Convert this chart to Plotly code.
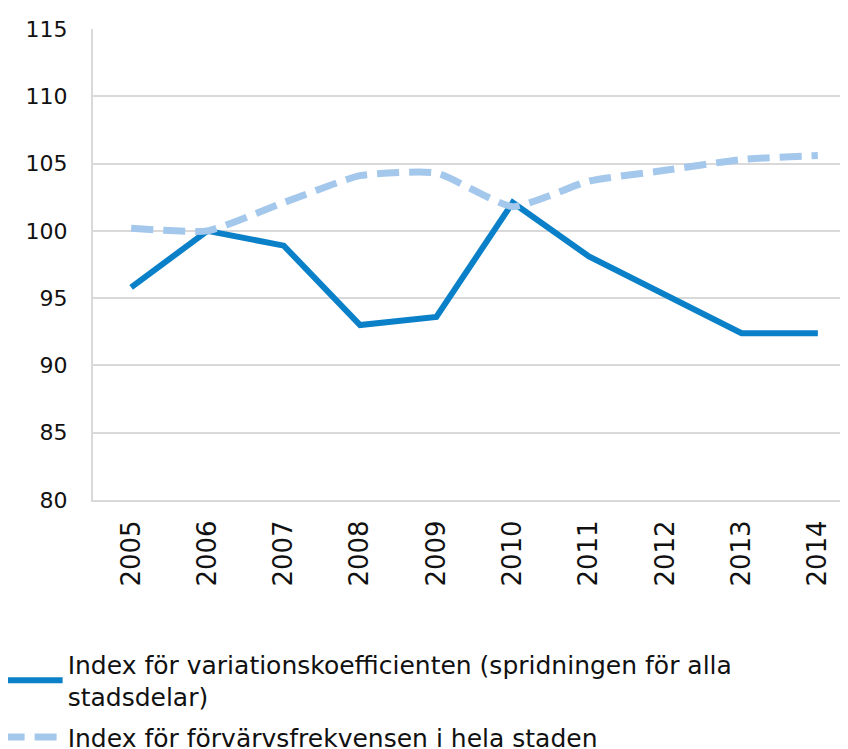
import plotly.graph_objects as go

years = ["2005", "2006", "2007", "2008", "2009", "2010", "2011", "2012", "2013", "2014"]
variation_index = [95.8, 100.0, 98.9, 93.0, 93.6, 102.1, 98.1, 95.3, 92.4, 92.4]
frequency_index = [100.2, 100.0, 102.1, 104.1, 104.3, 101.8, 103.7, 104.5, 105.3, 105.6]
y_ticks = [80, 85, 90, 95, 100, 105, 110, 115]
name_variation = "Index för variationskoefficienten (spridningen för alla<br>stadsdelar)"
name_frequency = "Index för förvärvsfrekvensen i hela staden"

FONT = "'DejaVu Sans', sans-serif"

fig = go.Figure()
fig.add_trace(go.Scatter(
    x=years, y=variation_index, mode="lines", name=name_variation,
    legendgroup="a",
    line=dict(color="#0a80c8", width=6),
))
fig.add_trace(go.Scatter(
    x=years, y=frequency_index, mode="lines", name=name_frequency,
    legendgroup="b",
    line=dict(color="#a4c8ec", width=7, dash="22px,10px", shape="spline", smoothing=0.5),
))

fig.update_layout(
    width=848, height=749,
    margin=dict(l=85, r=0, t=21, b=257, autoexpand=False),
    paper_bgcolor="white", plot_bgcolor="white",
    font=dict(family=FONT, size=22, color="#111111"),
    showlegend=True,
    legend=dict(
        x=-0.125, xanchor="left", y=-0.30, yanchor="top",
        orientation="v", font=dict(size=25, family=FONT),
        itemwidth=60, tracegroupgap=5,
    ),
)
fig.update_xaxes(
    type="category", range=[-0.5, 9.5],
    tickangle=-90, showgrid=False,
    showline=True, linecolor="#d9d9d9", linewidth=2,
    ticks="", ticklabelstandoff=8,
    tickfont=dict(size=26, family=FONT),
)
fig.update_yaxes(
    range=[80, 115], tickvals=y_ticks,
    showgrid=True, gridcolor="#d9d9d9", gridwidth=2,
    showline=True, linecolor="#d9d9d9", linewidth=2,
    zeroline=False, ticks="", ticklabelstandoff=19,
    tickfont=dict(size=22, family=FONT),
)

fig.write_html("out.html")
